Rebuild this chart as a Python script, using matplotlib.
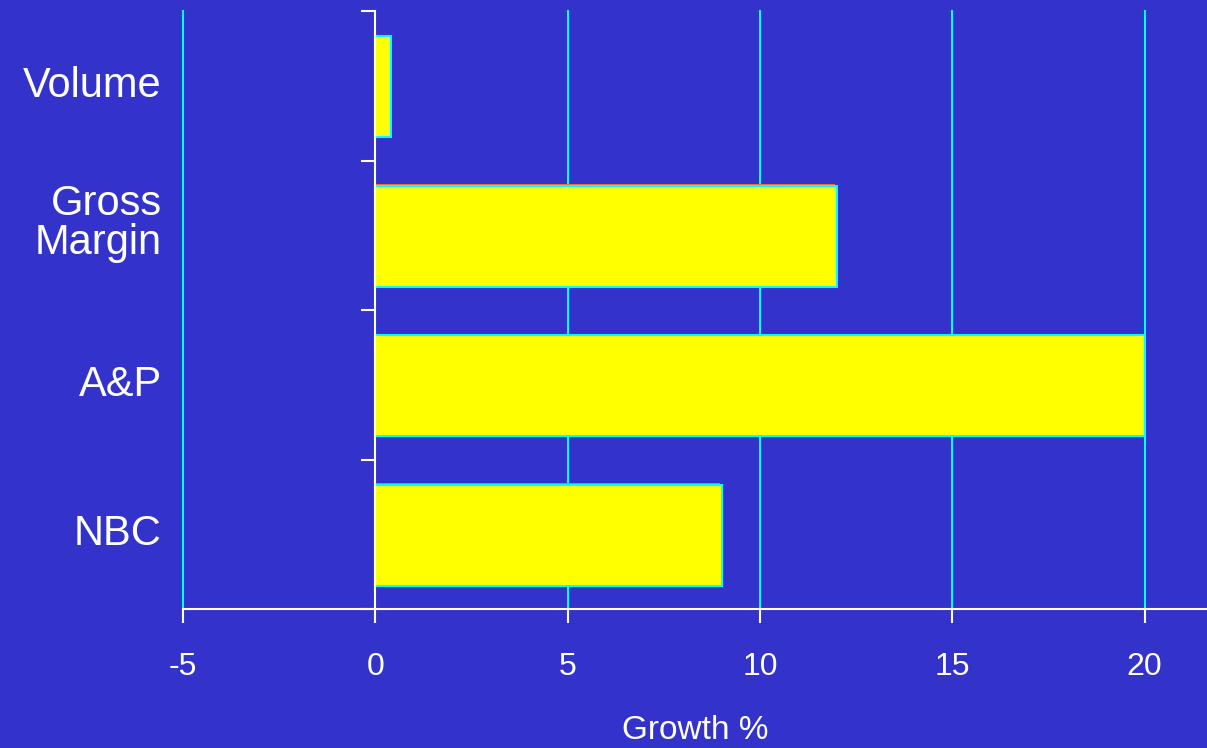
import matplotlib
matplotlib.use("Agg")
import matplotlib.pyplot as plt

categories = ["NBC", "A&P", "Gross\nMargin", "Volume"]
growth = [9.0, 20.0, 12.0, 0.4]
xticks = [-5, 0, 5, 10, 15, 20]
xlabel = "Growth %"

BG = "#3333CC"
BAR = "#FFFF00"
EDGE = "#00FFFF"
SHADOW = "#FF6A1A"
GRID = "#00FFFF"

plt.rcParams["font.family"] = ["Liberation Sans", "DejaVu Sans"]

fig = plt.figure(figsize=(12.07, 7.48), dpi=100, facecolor=BG)
ax = fig.add_axes([183 / 1207, 1 - 609 / 748, 1 - 183 / 1207, (609 - 11) / 748])
ax.set_facecolor(BG)

ax.set_xlim(-5, 21.62)
ax.set_ylim(-0.5, len(categories) - 0.5)

# vertical grid lines (the zero line is the white axis)
for xv in xticks:
    if xv != 0:
        ax.axvline(xv, color=GRID, lw=1.5, zorder=1, clip_on=False)

ypos = list(range(len(categories)))
h = 0.675
# thin offset shadow giving the bars a slight raised look
ax.barh([y - 0.008 + 0.012 for y in ypos], growth, height=h, left=-0.04,
        color=SHADOW, edgecolor="none", zorder=2)
ax.barh([y - 0.008 for y in ypos], growth, height=h, color=BAR,
        edgecolor=EDGE, lw=1.5, zorder=3)

for s in ["top", "right"]:
    ax.spines[s].set_visible(False)
ax.spines["left"].set_position(("data", 0))
ax.spines["left"].set_color("white")
ax.spines["left"].set_linewidth(1.5)
ax.spines["left"].set_zorder(4)
ax.spines["bottom"].set_color("white")
ax.spines["bottom"].set_linewidth(1.5)
ax.spines["bottom"].set_zorder(4)

ax.set_yticks([y - 0.5 for y in ypos] + [len(categories) - 0.5])
ax.set_yticklabels([])
ax.tick_params(axis="y", direction="out", length=10, width=1.5, color="white")

ax.set_xticks(xticks)
ax.set_xticklabels([str(v) for v in xticks])
ax.tick_params(axis="x", direction="out", length=10, width=1.5, color="white",
               labelcolor="white", labelsize=23, pad=21)

for y, name in zip(ypos, categories):
    # two-line labels sit a little higher than the band centre
    dy = 0.08 if "\n" in name else 0.0
    ax.text(-5.55, y + dy, name, ha="right", va="center", color="white",
            fontsize=30, linespacing=0.95, zorder=5)

ax.set_xlabel(xlabel, color="white", fontsize=24, labelpad=24)

fig.savefig("out.png", dpi=100, facecolor=BG)
